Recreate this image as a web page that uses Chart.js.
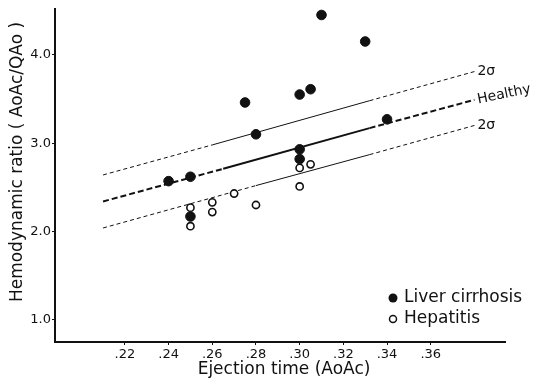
<!DOCTYPE html>
<html>
<head>
<meta charset="utf-8">
<script src="https://cdn.jsdelivr.net/npm/chart.js@4"></script>
<style>
html,body{margin:0;padding:0;background:#fff;}
#wrap{width:541px;height:385px;}
</style>
</head>
<body>
<div id="wrap"><canvas id="chart" width="541" height="385"></canvas></div>
<script>
// tick values
const xTicks = [0.22, 0.24, 0.26, 0.28, 0.30, 0.32, 0.34, 0.36];
const yTicks = [1.0, 2.0, 3.0, 4.0];

// liver cirrhosis (filled)
const cirrhosisX = [0.24, 0.25, 0.25, 0.275, 0.28, 0.30, 0.305, 0.31, 0.33, 0.34, 0.30, 0.30];
const cirrhosisY = [2.57, 2.62, 2.17, 3.46, 3.10, 3.55, 3.61, 4.45, 4.15, 3.27, 2.93, 2.82];

// hepatitis (open)
const hepatitisX = [0.25, 0.25, 0.26, 0.26, 0.27, 0.28, 0.30, 0.305, 0.30];
const hepatitisY = [2.27, 2.06, 2.33, 2.22, 2.43, 2.30, 2.72, 2.76, 2.51];

// reference lines: dashed / solid / dashed pieces
const healthyX = [0.21, 0.265, 0.332, 0.38];
const healthyY = [2.34, 2.71, 3.17, 3.49];
const upperX = [0.21, 0.26, 0.332, 0.38];
const upperY = [2.64, 2.98, 3.48, 3.81];
const lowerX = [0.21, 0.28, 0.332, 0.38];
const lowerY = [2.04, 2.52, 2.87, 3.20];

const pts = (xs, ys) => xs.map((x, i) => ({x: x, y: ys[i]}));
const FONT = "'DejaVu Sans', sans-serif";

const lineSet = (label, xs, ys, w, dash, endLabel) => ({
  label: label,
  data: pts(xs, ys),
  showLine: true,
  borderColor: "#111",
  borderWidth: w,
  pointRadius: 0,
  pointHoverRadius: 0,
  fill: false,
  endLabel: endLabel,
  segment: {
    borderDash: ctx => ctx.p0DataIndex === 1 ? [] : dash
  }
});

const extras = {
  id: "extras",
  afterDatasetsDraw(chart) {
    const c = chart.ctx;
    c.save();
    c.fillStyle = "#111";
    // end-of-line labels
    chart.data.datasets.forEach((ds, i) => {
      if (!ds.endLabel) return;
      const meta = chart.getDatasetMeta(i);
      const p = meta.data[meta.data.length - 1];
      c.save();
      c.translate(p.x + 3, p.y);
      if (ds.endLabel === "Healthy") c.rotate(-0.2);
      c.font = "14px " + FONT;
      c.textBaseline = "middle";
      c.textAlign = "left";
      c.fillText(ds.endLabel, 0, 0);
      c.restore();
    });
    // legend
    c.font = "17px " + FONT;
    c.textBaseline = "middle";
    c.textAlign = "left";
    const lx = 393, ly = 298;
    c.beginPath(); c.arc(lx, ly, 4.5, 0, Math.PI * 2); c.fill();
    c.fillText(chart.data.datasets[0].label, lx + 11, ly);
    c.beginPath(); c.arc(lx, ly + 21, 3.5, 0, Math.PI * 2);
    c.lineWidth = 1.5; c.strokeStyle = "#111"; c.stroke();
    c.fillText(chart.data.datasets[1].label, lx + 11, ly + 21);
    // axis titles
    c.font = "17px " + FONT;
    c.textAlign = "center";
    c.fillText("Ejection time (AoAc)", 284, 370);
    c.save();
    c.translate(18, 162);
    c.rotate(-Math.PI / 2);
    c.fillText("Hemodynamic ratio ( AoAc/QAo )", 0, 0);
    c.restore();
    c.restore();
  }
};

new Chart(document.getElementById("chart"), {
  type: "scatter",
  data: {
    datasets: [
      {
        label: "Liver cirrhosis",
        data: pts(cirrhosisX, cirrhosisY),
        backgroundColor: "#111",
        borderColor: "#111",
        pointRadius: 4.8,
        pointBorderWidth: 1
      },
      {
        label: "Hepatitis",
        data: pts(hepatitisX, hepatitisY),
        backgroundColor: "#fff",
        borderColor: "#111",
        pointRadius: 3.6,
        pointBorderWidth: 1.6
      },
      lineSet("Healthy", healthyX, healthyY, 2, [6, 3], "Healthy"),
      lineSet("+2σ", upperX, upperY, 1, [4, 3], "2σ"),
      lineSet("-2σ", lowerX, lowerY, 1, [4, 3], "2σ")
    ]
  },
  options: {
    responsive: false,
    animation: false,
    layout: {padding: {left: 4, top: 7, right: 36, bottom: 0}},
    plugins: {
      legend: {display: false},
      tooltip: {enabled: false}
    },
    scales: {
      x: {
        type: "linear",
        min: 0.188,
        max: 0.394,
        afterBuildTicks: s => { s.ticks = xTicks.map(v => ({value: v})); },
        afterFit: s => { s.height = 43; },
        border: {color: "#111", width: 2},
        grid: {drawOnChartArea: false, drawTicks: true, tickLength: 3, color: "#111"},
        ticks: {
          color: "#111",
          padding: 2,
          font: {family: FONT, size: 13},
          callback: v => v.toFixed(2).slice(1)
        }
      },
      y: {
        type: "linear",
        min: 0.75,
        max: 4.52,
        afterBuildTicks: s => { s.ticks = yTicks.map(v => ({value: v})); },
        afterFit: s => { s.width = 51; },
        border: {color: "#111", width: 2},
        grid: {drawOnChartArea: false, drawTicks: true, tickLength: 3, color: "#111"},
        ticks: {
          color: "#111",
          padding: 1,
          font: {family: FONT, size: 13},
          callback: v => v.toFixed(1)
        }
      }
    }
  },
  plugins: [extras]
});
</script>
</body>
</html>
